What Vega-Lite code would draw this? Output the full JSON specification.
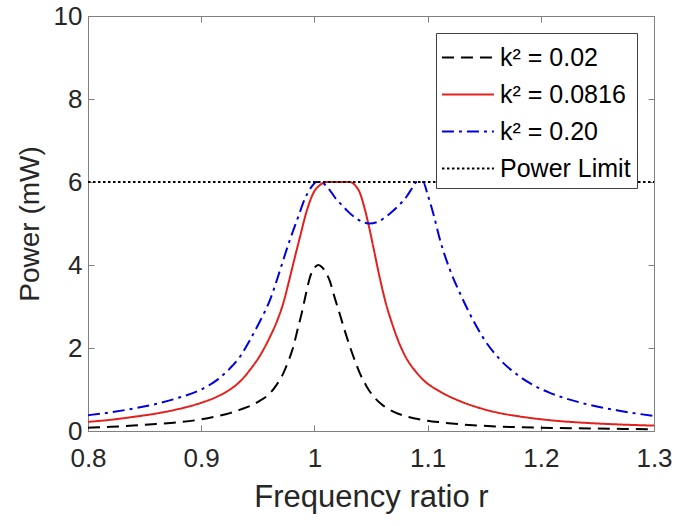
{
  "$schema": "https://vega.github.io/schema/vega-lite/v6.json",
  "width": 566,
  "height": 415,
  "autosize": {"type": "none"},
  "padding": {"left": 88, "top": 16, "right": 27, "bottom": 95},
  "background": "white",
  "config": {
    "font": "Liberation Sans",
    "view": {"stroke": "#808080", "strokeWidth": 1},
    "axis": {
      "domainColor": "#808080",
      "tickColor": "#808080",
      "labelColor": "#262626",
      "titleColor": "#262626",
      "labelFont": "Liberation Sans",
      "titleFont": "Liberation Sans",
      "labelFontSize": 26,
      "titleFontSize": 28,
      "titleFontWeight": "normal",
      "grid": false,
      "tickSize": -6,
      "labelFlush": false
    },
    "legend": {
      "fillColor": "white",
      "strokeColor": "#404040",
      "padding": 6,
      "labelFont": "Liberation Sans",
      "labelFontSize": 25,
      "labelColor": "#000000",
      "symbolStrokeWidth": 2,
      "rowPadding": 5,
      "labelOffset": 21
    }
  },
  "datasets": {
    "curves": [
      {"r": 0.80, "P": 0.08, "s": "k² = 0.02"},
      {"r": 0.82, "P": 0.10, "s": "k² = 0.02"},
      {"r": 0.84, "P": 0.13, "s": "k² = 0.02"},
      {"r": 0.86, "P": 0.17, "s": "k² = 0.02"},
      {"r": 0.88, "P": 0.21, "s": "k² = 0.02"},
      {"r": 0.90, "P": 0.28, "s": "k² = 0.02"},
      {"r": 0.915, "P": 0.36, "s": "k² = 0.02"},
      {"r": 0.9254, "P": 0.43, "s": "k² = 0.02"},
      {"r": 0.935, "P": 0.52, "s": "k² = 0.02"},
      {"r": 0.943, "P": 0.60, "s": "k² = 0.02"},
      {"r": 0.952, "P": 0.73, "s": "k² = 0.02"},
      {"r": 0.9608, "P": 0.91, "s": "k² = 0.02"},
      {"r": 0.967, "P": 1.13, "s": "k² = 0.02"},
      {"r": 0.9725, "P": 1.39, "s": "k² = 0.02"},
      {"r": 0.977, "P": 1.68, "s": "k² = 0.02"},
      {"r": 0.9814, "P": 2.03, "s": "k² = 0.02"},
      {"r": 0.985, "P": 2.43, "s": "k² = 0.02"},
      {"r": 0.9888, "P": 2.84, "s": "k² = 0.02"},
      {"r": 0.9925, "P": 3.30, "s": "k² = 0.02"},
      {"r": 0.996, "P": 3.70, "s": "k² = 0.02"},
      {"r": 1.000, "P": 3.93, "s": "k² = 0.02"},
      {"r": 1.0035, "P": 4.00, "s": "k² = 0.02"},
      {"r": 1.007, "P": 3.94, "s": "k² = 0.02"},
      {"r": 1.0105, "P": 3.80, "s": "k² = 0.02"},
      {"r": 1.0138, "P": 3.60, "s": "k² = 0.02"},
      {"r": 1.0175, "P": 3.25, "s": "k² = 0.02"},
      {"r": 1.0226, "P": 2.80, "s": "k² = 0.02"},
      {"r": 1.027, "P": 2.40, "s": "k² = 0.02"},
      {"r": 1.0314, "P": 2.03, "s": "k² = 0.02"},
      {"r": 1.036, "P": 1.68, "s": "k² = 0.02"},
      {"r": 1.040, "P": 1.40, "s": "k² = 0.02"},
      {"r": 1.046, "P": 1.08, "s": "k² = 0.02"},
      {"r": 1.052, "P": 0.84, "s": "k² = 0.02"},
      {"r": 1.059, "P": 0.65, "s": "k² = 0.02"},
      {"r": 1.0668, "P": 0.51, "s": "k² = 0.02"},
      {"r": 1.0815, "P": 0.35, "s": "k² = 0.02"},
      {"r": 1.095, "P": 0.27, "s": "k² = 0.02"},
      {"r": 1.111, "P": 0.21, "s": "k² = 0.02"},
      {"r": 1.13, "P": 0.16, "s": "k² = 0.02"},
      {"r": 1.16, "P": 0.11, "s": "k² = 0.02"},
      {"r": 1.20, "P": 0.08, "s": "k² = 0.02"},
      {"r": 1.25, "P": 0.06, "s": "k² = 0.02"},
      {"r": 1.30, "P": 0.04, "s": "k² = 0.02"},

      {"r": 0.80, "P": 0.22, "s": "k² = 0.0816"},
      {"r": 0.82, "P": 0.27, "s": "k² = 0.0816"},
      {"r": 0.84, "P": 0.34, "s": "k² = 0.0816"},
      {"r": 0.86, "P": 0.42, "s": "k² = 0.0816"},
      {"r": 0.88, "P": 0.53, "s": "k² = 0.0816"},
      {"r": 0.90, "P": 0.68, "s": "k² = 0.0816"},
      {"r": 0.915, "P": 0.84, "s": "k² = 0.0816"},
      {"r": 0.9254, "P": 1.00, "s": "k² = 0.0816"},
      {"r": 0.935, "P": 1.21, "s": "k² = 0.0816"},
      {"r": 0.943, "P": 1.47, "s": "k² = 0.0816"},
      {"r": 0.952, "P": 1.82, "s": "k² = 0.0816"},
      {"r": 0.9608, "P": 2.27, "s": "k² = 0.0816"},
      {"r": 0.967, "P": 2.65, "s": "k² = 0.0816"},
      {"r": 0.9725, "P": 3.08, "s": "k² = 0.0816"},
      {"r": 0.977, "P": 3.55, "s": "k² = 0.0816"},
      {"r": 0.9814, "P": 4.04, "s": "k² = 0.0816"},
      {"r": 0.9873, "P": 4.68, "s": "k² = 0.0816"},
      {"r": 0.9932, "P": 5.30, "s": "k² = 0.0816"},
      {"r": 0.999, "P": 5.73, "s": "k² = 0.0816"},
      {"r": 1.005, "P": 5.93, "s": "k² = 0.0816"},
      {"r": 1.011, "P": 6.0, "s": "k² = 0.0816"},
      {"r": 1.031, "P": 6.0, "s": "k² = 0.0816"},
      {"r": 1.036, "P": 5.92, "s": "k² = 0.0816"},
      {"r": 1.0403, "P": 5.73, "s": "k² = 0.0816"},
      {"r": 1.044, "P": 5.40, "s": "k² = 0.0816"},
      {"r": 1.0476, "P": 5.00, "s": "k² = 0.0816"},
      {"r": 1.052, "P": 4.44, "s": "k² = 0.0816"},
      {"r": 1.058, "P": 3.66, "s": "k² = 0.0816"},
      {"r": 1.0639, "P": 3.00, "s": "k² = 0.0816"},
      {"r": 1.0685, "P": 2.60, "s": "k² = 0.0816"},
      {"r": 1.0727, "P": 2.27, "s": "k² = 0.0816"},
      {"r": 1.0815, "P": 1.74, "s": "k² = 0.0816"},
      {"r": 1.089, "P": 1.45, "s": "k² = 0.0816"},
      {"r": 1.0962, "P": 1.23, "s": "k² = 0.0816"},
      {"r": 1.111, "P": 0.95, "s": "k² = 0.0816"},
      {"r": 1.1286, "P": 0.72, "s": "k² = 0.0816"},
      {"r": 1.149, "P": 0.53, "s": "k² = 0.0816"},
      {"r": 1.164, "P": 0.43, "s": "k² = 0.0816"},
      {"r": 1.179, "P": 0.36, "s": "k² = 0.0816"},
      {"r": 1.208, "P": 0.26, "s": "k² = 0.0816"},
      {"r": 1.237, "P": 0.20, "s": "k² = 0.0816"},
      {"r": 1.267, "P": 0.16, "s": "k² = 0.0816"},
      {"r": 1.30, "P": 0.13, "s": "k² = 0.0816"},

      {"r": 0.80, "P": 0.38, "s": "k² = 0.20"},
      {"r": 0.82, "P": 0.45, "s": "k² = 0.20"},
      {"r": 0.84, "P": 0.54, "s": "k² = 0.20"},
      {"r": 0.86, "P": 0.65, "s": "k² = 0.20"},
      {"r": 0.88, "P": 0.80, "s": "k² = 0.20"},
      {"r": 0.90, "P": 1.00, "s": "k² = 0.20"},
      {"r": 0.915, "P": 1.25, "s": "k² = 0.20"},
      {"r": 0.9254, "P": 1.51, "s": "k² = 0.20"},
      {"r": 0.935, "P": 1.82, "s": "k² = 0.20"},
      {"r": 0.943, "P": 2.19, "s": "k² = 0.20"},
      {"r": 0.952, "P": 2.65, "s": "k² = 0.20"},
      {"r": 0.9608, "P": 3.16, "s": "k² = 0.20"},
      {"r": 0.967, "P": 3.65, "s": "k² = 0.20"},
      {"r": 0.9725, "P": 4.12, "s": "k² = 0.20"},
      {"r": 0.977, "P": 4.50, "s": "k² = 0.20"},
      {"r": 0.9814, "P": 4.84, "s": "k² = 0.20"},
      {"r": 0.986, "P": 5.18, "s": "k² = 0.20"},
      {"r": 0.990, "P": 5.49, "s": "k² = 0.20"},
      {"r": 0.9976, "P": 5.89, "s": "k² = 0.20"},
      {"r": 1.002, "P": 6.0, "s": "k² = 0.20"},
      {"r": 1.006, "P": 6.0, "s": "k² = 0.20"},
      {"r": 1.010, "P": 5.92, "s": "k² = 0.20"},
      {"r": 1.015, "P": 5.75, "s": "k² = 0.20"},
      {"r": 1.0197, "P": 5.57, "s": "k² = 0.20"},
      {"r": 1.0226, "P": 5.49, "s": "k² = 0.20"},
      {"r": 1.030, "P": 5.28, "s": "k² = 0.20"},
      {"r": 1.037, "P": 5.12, "s": "k² = 0.20"},
      {"r": 1.043, "P": 5.03, "s": "k² = 0.20"},
      {"r": 1.0485, "P": 5.00, "s": "k² = 0.20"},
      {"r": 1.055, "P": 5.03, "s": "k² = 0.20"},
      {"r": 1.061, "P": 5.12, "s": "k² = 0.20"},
      {"r": 1.0668, "P": 5.24, "s": "k² = 0.20"},
      {"r": 1.074, "P": 5.42, "s": "k² = 0.20"},
      {"r": 1.0815, "P": 5.65, "s": "k² = 0.20"},
      {"r": 1.087, "P": 5.88, "s": "k² = 0.20"},
      {"r": 1.0904, "P": 6.0, "s": "k² = 0.20"},
      {"r": 1.096, "P": 6.0, "s": "k² = 0.20"},
      {"r": 1.100, "P": 5.70, "s": "k² = 0.20"},
      {"r": 1.105, "P": 5.24, "s": "k² = 0.20"},
      {"r": 1.111, "P": 4.60, "s": "k² = 0.20"},
      {"r": 1.1198, "P": 3.88, "s": "k² = 0.20"},
      {"r": 1.1286, "P": 3.32, "s": "k² = 0.20"},
      {"r": 1.140, "P": 2.68, "s": "k² = 0.20"},
      {"r": 1.149, "P": 2.25, "s": "k² = 0.20"},
      {"r": 1.164, "P": 1.72, "s": "k² = 0.20"},
      {"r": 1.179, "P": 1.36, "s": "k² = 0.20"},
      {"r": 1.193, "P": 1.11, "s": "k² = 0.20"},
      {"r": 1.208, "P": 0.92, "s": "k² = 0.20"},
      {"r": 1.237, "P": 0.67, "s": "k² = 0.20"},
      {"r": 1.267, "P": 0.50, "s": "k² = 0.20"},
      {"r": 1.30, "P": 0.36, "s": "k² = 0.20"},

      {"r": 0.80, "P": 6.0, "s": "Power Limit"},
      {"r": 1.30, "P": 6.0, "s": "Power Limit"}
    ]
  },
  "data": {"name": "curves"},
  "layer": [
    {
      "mark": {"type": "line", "strokeWidth": 2, "clip": true, "interpolate": "monotone"},
      "encoding": {
        "x": {
          "field": "r",
          "type": "quantitative",
          "scale": {"domain": [0.8, 1.3], "nice": false, "zero": false},
          "axis": {
            "values": [0.8, 0.9, 1, 1.1, 1.2, 1.3],
            "format": "~g",
            "title": "Frequency ratio r",
            "titleFontSize": 31,
            "labelPadding": 20,
            "titlePadding": 11
          }
        },
        "y": {
          "field": "P",
          "type": "quantitative",
          "scale": {"domain": [0, 10], "nice": false},
          "axis": {
            "values": [0, 2, 4, 6, 8, 10],
            "format": "d",
            "title": "Power (mW)",
            "labelPadding": 12,
            "titlePadding": 9
          }
        },
        "color": {
          "field": "s",
          "type": "nominal",
          "scale": {
            "domain": ["k² = 0.02", "k² = 0.0816", "k² = 0.20", "Power Limit"],
            "range": ["#000000", "#e3201c", "#0000e0", "#000000"]
          },
          "legend": {
            "title": null,
            "orient": "top-right",
            "offset": 17,
            "symbolType": "M-1.06,0H1.91",
            "symbolSize": 1225
          }
        },
        "strokeDash": {
          "field": "s",
          "type": "nominal",
          "scale": {
            "domain": ["k² = 0.02", "k² = 0.0816", "k² = 0.20", "Power Limit"],
            "range": [[12, 7], [1, 0], [12, 5, 3, 5], [2.5, 2.5]]
          },
          "legend": {
            "title": null,
            "orient": "top-right",
            "offset": 17,
            "symbolType": "M-1.06,0H1.91",
            "symbolSize": 1225
          }
        }
      }
    },
    {
      "mark": {"type": "line", "opacity": 0},
      "encoding": {
        "x": {
          "field": "r",
          "type": "quantitative",
          "axis": {"orient": "top", "values": [0.8, 0.9, 1, 1.1, 1.2, 1.3], "labels": false, "title": null}
        },
        "y": {
          "field": "P",
          "type": "quantitative",
          "axis": {"orient": "right", "values": [0, 2, 4, 6, 8, 10], "labels": false, "title": null}
        },
        "detail": {"field": "s", "type": "nominal"}
      }
    }
  ],
  "resolve": {"axis": {"x": "independent", "y": "independent"}}
}
